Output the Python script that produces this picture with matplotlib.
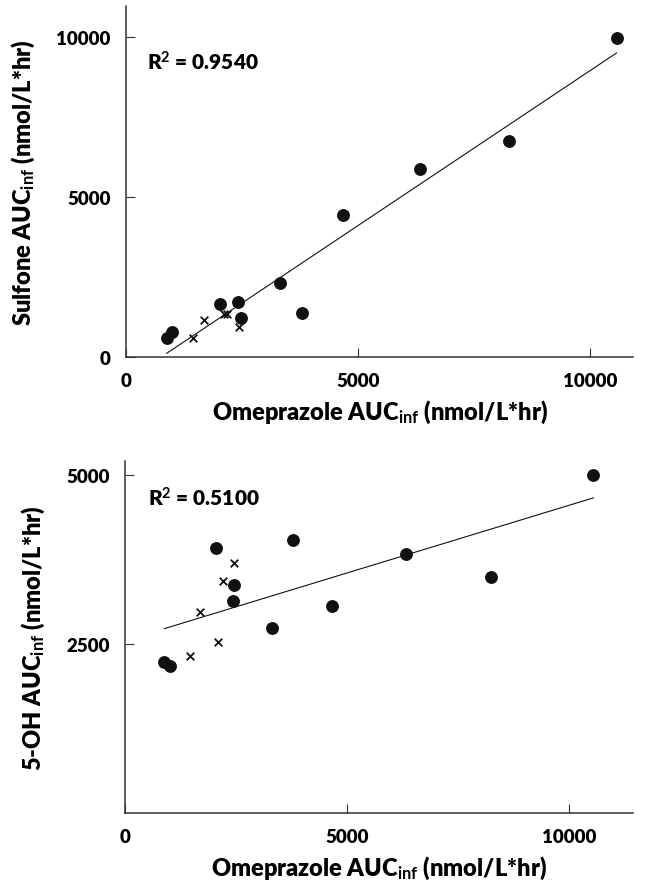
import numpy as np
import matplotlib
matplotlib.use('Agg')
import matplotlib.pyplot as plt

plt.rcParams['font.family'] = ['Lato', 'DejaVu Sans']
plt.rcParams['font.weight'] = 'heavy'
plt.rcParams['axes.labelweight'] = 'heavy'
plt.rcParams['mathtext.fontset'] = 'custom'
plt.rcParams['mathtext.rm'] = 'Lato:bold'
plt.rcParams['mathtext.default'] = 'rm'

# top panel: sulfone vs omeprazole
sulf_circle_x = [877, 998, 2026, 2414, 2471, 3312, 3786, 4670, 6336, 8261, 10575]
sulf_circle_y = [594, 791, 1666, 1728, 1219, 2313, 1375, 4427, 5885, 6771, 9969]
sulf_cross_x = [1451, 1681, 2112, 2184, 2443]
sulf_cross_y = [594, 1156, 1354, 1333, 927]
sulf_r2 = '0.9540'

# bottom panel: 5-OH vs omeprazole
oh_circle_x = [885, 1006, 2042, 2462, 2425, 3303, 3791, 4670, 6329, 8251, 10548]
oh_circle_y = [2231, 2172, 3920, 3367, 3135, 2741, 4044, 3056, 3837, 3490, 4997]
oh_cross_x = [1457, 1689, 2102, 2207, 2455]
oh_cross_y = [2326, 2967, 2533, 3431, 3698]
oh_r2 = '0.5100'


def draw_panel(ax, cx, cy, xx, xy, r2, ylabel, xlim, ylim, yticks, r2_pos):
    ax.scatter(cx, cy, s=68, color='#111111', zorder=3)
    ax.scatter(xx, xy, s=30, marker='x', color='#111111', linewidths=1.3, zorder=3)

    # least squares line through all subjects
    allx = np.array(cx + xx, dtype=float)
    ally = np.array(cy + xy, dtype=float)
    slope, icpt = np.polyfit(allx, ally, 1)
    lx = np.array([allx.min(), allx.max()])
    ax.plot(lx, slope * lx + icpt, color='#111111', lw=0.8)

    ax.set_xlim(*xlim)
    ax.set_ylim(*ylim)
    ax.set_xticks([0, 5000, 10000])
    ax.set_yticks(yticks)
    for s in ['top', 'right']:
        ax.spines[s].set_visible(False)
    for s in ['left', 'bottom']:
        ax.spines[s].set_linewidth(1.1)
        ax.spines[s].set_color('#333333')
    ax.tick_params(direction='in', length=6.5, width=0.8, color='#333333',
                   labelsize=13.5, pad=11)
    for lab in ax.get_xticklabels() + ax.get_yticklabels():
        lab.set_fontweight('heavy')
    ax.set_xlabel('Omeprazole AUC$_{inf}$ (nmol/L*hr)', fontsize=17,
                  fontweight='heavy', labelpad=6)
    ax.set_ylabel(ylabel, fontsize=17, fontweight='heavy', labelpad=14)
    ax.text(r2_pos[0], r2_pos[1], 'R$^2$ = ' + r2, transform=ax.transAxes,
            fontsize=15, fontweight='heavy', va='center', ha='left')


fig = plt.figure(figsize=(6.62, 8.87), dpi=100)
ax1 = fig.add_axes([0.1903, 0.5964, 0.7659, 0.3957])
ax2 = fig.add_axes([0.1888, 0.0823, 0.7674, 0.3968])

draw_panel(ax1, sulf_circle_x, sulf_circle_y, sulf_cross_x, sulf_cross_y, sulf_r2,
           'Sulfone AUC$_{inf}$ (nmol/L*hr)', (0, 10930), (0, 10980),
           [0, 5000, 10000], (0.041, 0.843))
draw_panel(ax2, oh_circle_x, oh_circle_y, oh_cross_x, oh_cross_y, oh_r2,
           '5-OH AUC$_{inf}$ (nmol/L*hr)', (0, 11440), (0, 5208),
           [2500, 5000], (0.046, 0.897))

fig.savefig('out.png', dpi=100)
